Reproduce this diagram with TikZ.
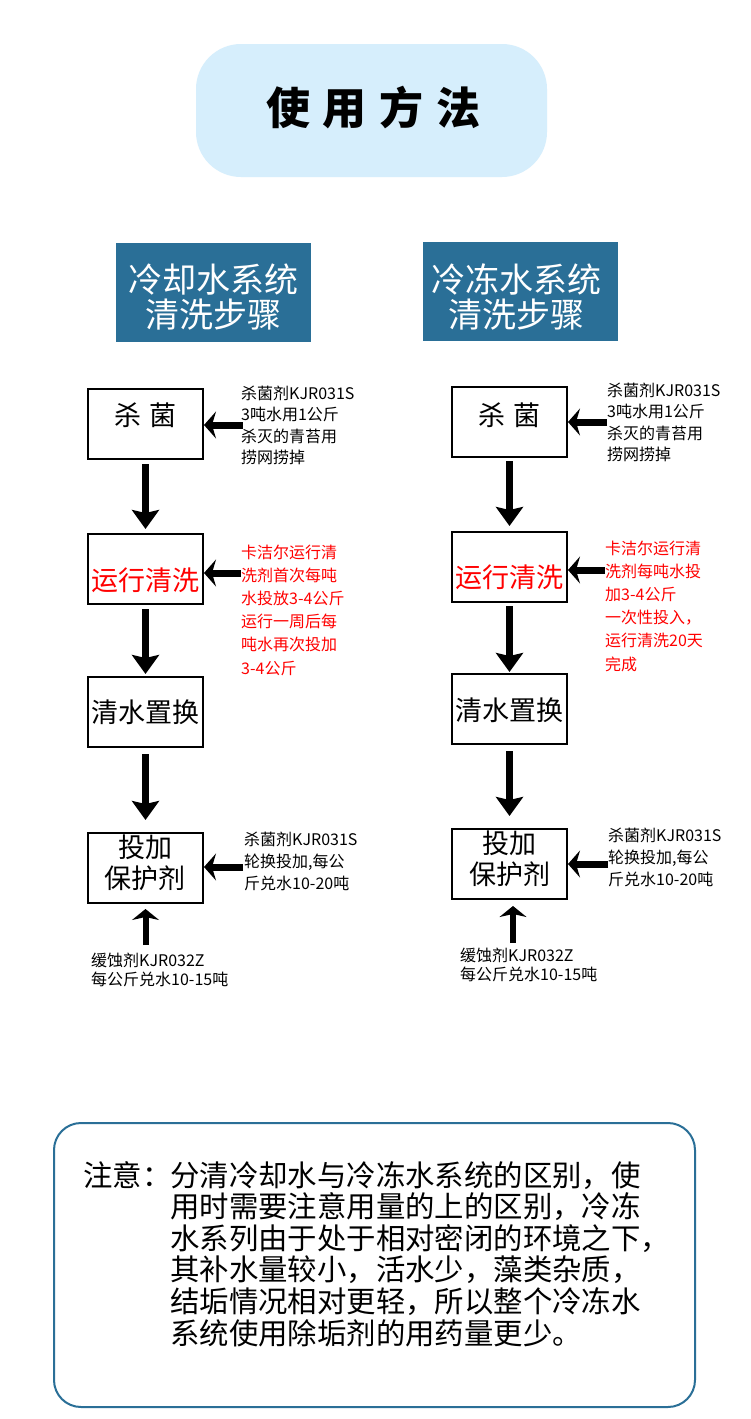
\documentclass[tikz,border=0pt]{standalone}
\usepackage{fontspec}
\setmainfont{Noto Sans CJK SC}
\usetikzlibrary{arrows.meta}
\definecolor{hdr}{HTML}{2A6F97}
\definecolor{ttl}{HTML}{D6EEFC}
\definecolor{txtred}{HTML}{FF0000}
\begin{document}
\begin{tikzpicture}[x=1pt,y=-1pt,
  stepbox/.style={draw=black, line width=2pt, minimum width=115pt, minimum height=70pt, inner sep=0pt},
  boxtext/.style={font=\fontsize{27}{31}\selectfont, align=center, inner sep=0pt},
  lbl/.style={anchor=base west, align=left, inner sep=0pt, font=\fontsize{16}{21.5}\selectfont},
  rlbl/.style={anchor=base west, align=left, inner sep=0pt, text=txtred, font=\fontsize{16}{23.2}\selectfont},
  blbl/.style={anchor=base west, align=left, inner sep=0pt, font=\fontsize{16}{22}\selectfont},
  clbl/.style={anchor=base west, align=left, inner sep=0pt, font=\fontsize{16}{19.5}\selectfont},
  varrow/.style={line width=6.5pt, -{Stealth[length=19pt,width=27pt,inset=3pt]}},
  harrow/.style={line width=7pt, -{Stealth[length=12pt,width=27pt,inset=4pt]}},
  uarrow/.style={line width=6pt, -{Stealth[length=11pt,width=27pt,inset=3pt]}},
  hdrbox/.style={fill=hdr, minimum width=195pt, minimum height=99pt, inner sep=0pt},
  hdrtext/.style={text=white, align=center, inner sep=0pt, font=\fontsize{34}{35}\selectfont},
]
\useasboundingbox (0,0) rectangle (750,1419);
\fill[white] (0,0) rectangle (750,1419);

% title
\node (title) [fill=ttl, rounded corners=45pt, minimum width=351pt, minimum height=133pt, inner sep=0pt] at (371.5,110.5) {};
\node (titletext) [inner sep=0pt, font=\fontsize{44}{50}\selectfont\bfseries] at (373.5,108) {使\hspace{13pt}用\hspace{13pt}方\hspace{13pt}法};

% headers
\node (hL) [hdrbox] at (213.5,292.5) {};
\node (hLt) [hdrtext] at (213.5,297.5) {冷却水系统\\清洗步骤};
\node (hR) [hdrbox] at (520,291.5) {};
\node (hRt) [hdrtext] at (516,297) {冷冻水系统\\清洗步骤};

% left column boxes
\node (L1) [stepbox] at (145.5,424) {};
\node (L1t) [boxtext] at (145.5,415) {杀\hspace{9pt}菌};
\node (L2) [stepbox] at (145.5,569) {};
\node (L2t) [boxtext, text=txtred] at (145.5,580) {运行清洗};
\node (L3) [stepbox] at (145.5,712) {};
\node (L3t) [boxtext] at (145.5,712) {清水置换};
\node (L4) [stepbox] at (145.5,867.5) {};
\node (L4t) [boxtext] at (145,862.5) {投加\\保护剂};

% right column boxes
\node (R1) [stepbox] at (509.5,421.5) {};
\node (R1t) [boxtext] at (509.5,415) {杀\hspace{9pt}菌};
\node (R2) [stepbox] at (509.5,566.5) {};
\node (R2t) [boxtext, text=txtred] at (509.5,577) {运行清洗};
\node (R3) [stepbox] at (509.5,709) {};
\node (R3t) [boxtext] at (509.5,710) {清水置换};
\node (R4) [stepbox] at (509.5,864) {};
\node (R4t) [boxtext] at (509.5,859) {投加\\保护剂};

% labels left (anchor at last line baseline)
\node (L1l) [lbl] at (241,463.5) {杀菌剂KJR031S\\3吨水用1公斤\\杀灭的青苔用\\捞网捞掉};
\node (L2l) [rlbl] at (241,674) {卡洁尔运行清\\洗剂首次每吨\\水投放3-4公斤\\运行一周后每\\吨水再次投加\\3-4公斤};
\node (L4l) [blbl] at (244,889) {杀菌剂KJR031S\\轮换投加,每公\\斤兑水10-20吨};
\node (L5l) [clbl] at (91,985.5) {缓蚀剂KJR032Z\\每公斤兑水10-15吨};

% labels right
\node (R1l) [lbl] at (607,460.5) {杀菌剂KJR031S\\3吨水用1公斤\\杀灭的青苔用\\捞网捞掉};
\node (R2l) [rlbl] at (605,670) {卡洁尔运行清\\洗剂每吨水投\\加3-4公斤\\一次性投入，\\运行清洗20天\\完成};
\node (R4l) [blbl] at (608,885) {杀菌剂KJR031S\\轮换投加,每公\\斤兑水10-20吨};
\node (R5l) [clbl] at (460,980.5) {缓蚀剂KJR032Z\\每公斤兑水10-15吨};

% vertical arrows
\draw[varrow] ([yshift=-4pt]L1.south) -- ([yshift=4pt]L2.north);
\draw[varrow] ([yshift=-4pt]L2.south) -- ([yshift=2pt]L3.north);
\draw[varrow] ([yshift=-6pt]L3.south) -- ([yshift=11.5pt]L4.north);
\draw[varrow] ([yshift=-3.5pt]R1.south) -- ([yshift=4.5pt]R2.north);
\draw[varrow] ([yshift=-3.5pt]R2.south) -- ([yshift=1pt]R3.north);
\draw[varrow] ([yshift=-6pt]R3.south) -- ([yshift=12pt]R4.north);

% horizontal arrows
\coordinate (a1) at (243,425);
\coordinate (a2) at (241,573);
\coordinate (a4) at (243,867);
\coordinate (b1) at (607,422);
\coordinate (b2) at (605,570);
\coordinate (b4) at (608,864);
\draw[harrow] (a1) -- (L1.east |- a1);
\draw[harrow] (a2) -- (L2.east |- a2);
\draw[harrow] (a4) -- (L4.east |- a4);
\draw[harrow] (b1) -- (R1.east |- b1);
\draw[harrow] (b2) -- (R2.east |- b2);
\draw[harrow] (b4) -- (R4.east |- b4);

% upward arrows
\coordinate (u1) at (145.5,945);
\coordinate (u2) at (513,943);
\draw[uarrow] (u1) -- ([yshift=-5.5pt]L4.south);
\draw[uarrow] (u2) -- ([xshift=3.5pt,yshift=-6pt]R4.south);

% note
\node (note) [draw=hdr, line width=2pt, rounded corners=27pt, minimum width=641pt, minimum height=284pt, inner sep=0pt] at (374.5,1265) {};
\node (noteL) [anchor=base west, inner sep=0pt, font=\fontsize{29.4}{31.6}\selectfont] at (83,1186) {注意：};
\node (noteB) [anchor=base west, align=left, inner sep=0pt, font=\fontsize{29.4}{31.6}\selectfont] at (170,1344) {分清冷却水与冷冻水系统的区别，使\\用时需要注意用量的上的区别，冷冻\\水系列由于处于相对密闭的环境之下，\\其补水量较小，活水少，藻类杂质，\\结垢情况相对更轻，所以整个冷冻水\\系统使用除垢剂的用药量更少。};
\end{tikzpicture}
\end{document}
